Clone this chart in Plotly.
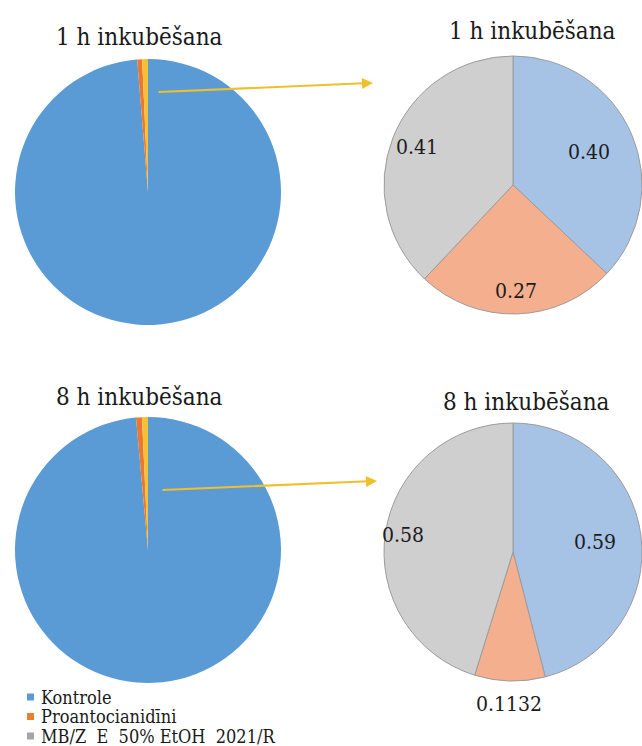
import math
import plotly.graph_objects as go

# Categories shown in every pie
categories = ["Kontrole", "Proantocianidīni", "MB/Z  E  50% EtOH  2021/R"]

# Overview pies (whole sample) after 1 h and 8 h of incubation
overview_1h = [98.7, 0.6, 0.7]
overview_8h = [98.56, 0.72, 0.72]

# Detail pies (small fractions) after 1 h and 8 h of incubation
detail_1h = [0.40, 0.27, 0.41]
detail_8h = [0.59, 0.1132, 0.58]

titles = ["1 h inkubēšana", "8 h inkubēšana"]

SERIF = "DejaVu Serif Condensed, DejaVu Serif"
W, H = 642, 746

overview_colors = ["#5B9BD5", "#E8792F", "#F4C136"]
detail_colors = ["#A6C3E6", "#F4AF8E", "#CFCFCF"]
legend_colors = ["#5B9BD5", "#ED7D31", "#A5A5A5"]


def fmt(v):
    s = f"{v:.4f}".rstrip("0")
    whole, dec = s.split(".")
    return f"{whole}.{dec.ljust(2, '0')}"


def px_x(x):
    return x / W


def px_y(y):
    return 1 - y / H


fig = go.Figure()
annotations = []

# Overview pies (left column)
for vals, (top, bottom) in [(overview_1h, (59, 325)), (overview_8h, (417, 683))]:
    fig.add_trace(go.Pie(
        labels=categories, values=vals, sort=False, direction="clockwise",
        rotation=0, textinfo="none", hoverinfo="skip", showlegend=False,
        marker=dict(colors=overview_colors, line=dict(width=0)),
        domain=dict(x=[px_x(15), px_x(281)], y=[px_y(bottom), px_y(top)]),
    ))

# Detail pies (right column); value labels sit on each slice's mid-angle
detail_specs = [
    (detail_1h, (384, 52, 318), [0.64, 0.82, 0.80]),
    (detail_8h, (384, 419, 685), [0.64, 1.18, 0.86]),
]
for vals, (left, top, bottom), label_r in detail_specs:
    fig.add_trace(go.Pie(
        labels=categories, values=vals, sort=False, direction="clockwise",
        rotation=0, textinfo="none", hoverinfo="skip", showlegend=False,
        marker=dict(colors=detail_colors, line=dict(width=1, color="#9c9c9c")),
        domain=dict(x=[px_x(left), 1], y=[px_y(bottom), px_y(top)]),
    ))
    cx, cy = (left + W) / 2, (top + bottom) / 2
    radius = min(W - left, bottom - top) / 2
    total = sum(vals)
    start = 0.0
    for v, rf in zip(vals, label_r):
        mid = (start + v / 2) / total * 2 * math.pi
        start += v
        lx = cx + rf * radius * math.sin(mid)
        ly = cy - rf * radius * math.cos(mid)
        annotations.append(dict(
            text=fmt(v), x=px_x(lx), y=px_y(ly), xref="paper", yref="paper",
            xanchor="center", yanchor="middle", showarrow=False,
            font=dict(family=SERIF, size=21, color="#1c1c1c"),
        ))

# Pie titles
for text, x, y in [
    (titles[0], 139, 37), (titles[0], 532, 31),
    (titles[1], 139, 397), (titles[1], 526, 402),
]:
    annotations.append(dict(
        text=text, x=px_x(x), y=px_y(y), xref="paper", yref="paper",
        xanchor="center", yanchor="middle", showarrow=False,
        font=dict(family=SERIF, size=24, color="#1a1a1a"),
    ))

# Connector arrows from the small slices to the detail pies
for (x0, y0), (x1, y1) in [((157, 92), (373, 83)), ((161, 490), (377, 481))]:
    annotations.append(dict(
        text="", x=px_x(x1), y=px_y(y1), xref="paper", yref="paper",
        ax=x0 - x1, ay=y0 - y1, axref="pixel", ayref="pixel",
        showarrow=True, arrowhead=2, arrowsize=1.1, arrowwidth=2,
        arrowcolor="#EFC02C",
    ))

# Legend
shapes = []
for i, (name, color) in enumerate(zip(categories, legend_colors)):
    yc = 697 + 19.5 * i
    shapes.append(dict(
        type="rect", xref="paper", yref="paper",
        x0=px_x(27), x1=px_x(34), y0=px_y(yc + 3.5), y1=px_y(yc - 3.5),
        fillcolor=color, line=dict(width=0),
    ))
    annotations.append(dict(
        text=name.replace("  ", "\u00a0 "), x=px_x(39), y=px_y(yc),
        xref="paper", yref="paper", xanchor="left", yanchor="middle",
        showarrow=False, font=dict(family=SERIF, size=18, color="#1a1a1a"),
    ))

fig.update_layout(
    width=W, height=H, margin=dict(l=0, r=0, t=0, b=0),
    paper_bgcolor="white", plot_bgcolor="white",
    annotations=annotations, shapes=shapes,
)

fig.write_html("out.html")
